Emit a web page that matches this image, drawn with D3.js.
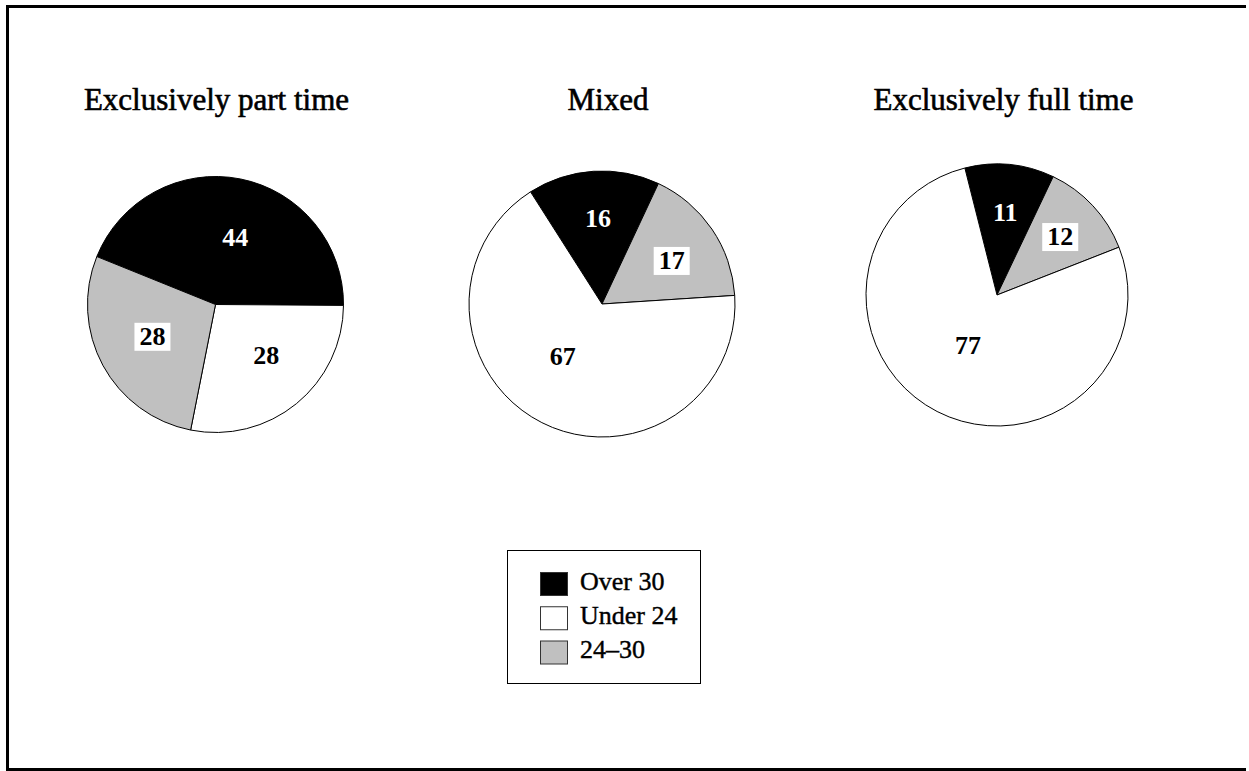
<!DOCTYPE html>
<html>
<head>
<meta charset="utf-8">
<script src="https://cdn.jsdelivr.net/npm/d3@7"></script>
<style>
  html, body { margin: 0; padding: 0; background: #fff; overflow: hidden; }
  svg { display: block; }
  text { font-family: "Liberation Serif", "Times New Roman", serif; }
</style>
</head>
<body>
<svg id="chart" width="1249" height="771"></svg>
<script>
// ---- data ----
const titles = ["Exclusively part time", "Mixed", "Exclusively full time"];
const categories = ["Over 30", "Under 24", "24–30"];      // legend order
const over30 = [44, 16, 11];
const under24 = [28, 67, 77];
const age24to30 = [28, 17, 12];

// ---- layout / style ----
const W = 1249, H = 771;
const colors = { "Over 30": "#000000", "24–30": "#c0c0c0", "Under 24": "#ffffff" };
const labelColors = { "Over 30": "#ffffff", "24–30": "#000000", "Under 24": "#000000" };
// clockwise slice order per pie, starting at the given angle
const sliceOrders = [
  ["Over 30", "Under 24", "24–30"],
  ["Over 30", "24–30", "Under 24"],
  ["Over 30", "24–30", "Under 24"]
];
const startAnglesDeg = [-68, -32.5, -14.2];
const pieCenters = [[215.5, 304.5], [602, 304], [997, 295]];
const pieRadii = [128, 133, 131];
const labelRadiusFrac = [
  { "Over 30": 0.55, "24–30": 0.55, "Under 24": 0.56 },
  { "Over 30": 0.65, "24–30": 0.62, "Under 24": 0.49 },
  { "Over 30": 0.64, "24–30": 0.66, "Under 24": 0.44 }
];
const labelAngleShiftDeg = [
  { "Over 30": 5, "24–30": 2, "Under 24": -6 },
  { "Over 30": 1, "24–30": 2, "Under 24": 10 },
  { "Over 30": 0, "24–30": 0, "Under 24": 3 }
];
const titleX = [216.5, 608, 1003.5];
const titleY = 110;

const svg = d3.select("#chart");

// frame (open on the right)
svg.append("path")
  .attr("d", `M${W - 3},6.5 H7.5 V769.5 H${W - 3}`)
  .attr("fill", "none").attr("stroke", "#000").attr("stroke-width", 3);

const series = { "Over 30": over30, "24–30": age24to30, "Under 24": under24 };

titles.forEach((title, i) => {
  const rows = sliceOrders[i].map(c => ({ cat: c, value: series[c][i] }));
  const start = startAnglesDeg[i] * Math.PI / 180;
  const pie = d3.pie().sort(null).value(d => d.value)
    .startAngle(start).endAngle(start + 2 * Math.PI);
  const R = pieRadii[i];
  const arc = d3.arc().innerRadius(0).outerRadius(R);
  const g = svg.append("g").attr("transform", `translate(${pieCenters[i][0]},${pieCenters[i][1]})`);

  const arcs = pie(rows);
  g.selectAll("path.slice").data(arcs).join("path")
    .attr("class", "slice")
    .attr("d", arc)
    .attr("fill", d => colors[d.data.cat])
    .attr("stroke", "#000")
    .attr("stroke-width", 1)
    .attr("stroke-linejoin", "round");

  // labels
  arcs.forEach(d => {
    const lr = R * labelRadiusFrac[i][d.data.cat];
    const a = (d.startAngle + d.endAngle) / 2 + labelAngleShiftDeg[i][d.data.cat] * Math.PI / 180;
    const lx = lr * Math.sin(a), ly = -lr * Math.cos(a);
    const lg = g.append("g").attr("transform", `translate(${lx},${ly})`);
    const t = lg.append("text")
      .attr("text-anchor", "middle")
      .attr("y", 9)
      .attr("font-size", 26)
      .attr("font-weight", "bold")
      .attr("fill", labelColors[d.data.cat])
      .text(d.data.value);
    if (d.data.cat === "24–30") {
      const bb = t.node().getBBox();
      lg.insert("rect", "text")
        .attr("x", bb.x - 5).attr("y", bb.y + 1)
        .attr("width", bb.width + 10).attr("height", bb.height - 1)
        .attr("fill", "#fff");
    }
  });

  svg.append("text")
    .attr("x", titleX[i]).attr("y", titleY)
    .attr("text-anchor", "middle")
    .attr("font-size", 31)
    .attr("stroke", "#000").attr("stroke-width", 0.6)
    .text(title);
});

// legend
const legend = svg.append("g");
legend.append("rect")
  .attr("x", 507.5).attr("y", 550.5).attr("width", 193).attr("height", 133)
  .attr("fill", "#fff").attr("stroke", "#000").attr("stroke-width", 1);
const ly = d3.scalePoint().domain(categories).range([572.5, 641]);
categories.forEach(c => {
  legend.append("rect")
    .attr("x", 540.5).attr("y", ly(c)).attr("width", 27).attr("height", 23)
    .attr("fill", colors[c]).attr("stroke", "#333").attr("stroke-width", 1);
  legend.append("text")
    .attr("x", 580).attr("y", ly(c) + 17)
    .attr("font-size", 26)
    .attr("stroke", "#000").attr("stroke-width", 0.4)
    .text(c);
});
</script>
</body>
</html>
